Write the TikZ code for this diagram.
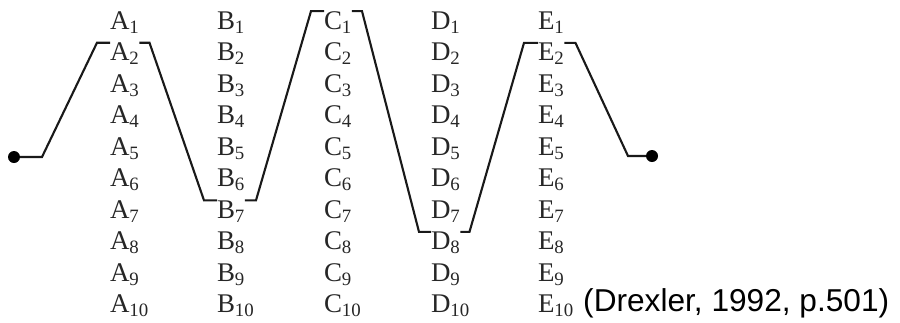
\documentclass[tikz,border=0pt]{standalone}
\usepackage{fontspec}
\setmainfont{Liberation Serif}
\newfontfamily\citefont{Liberation Sans}
\usepackage{tikz}
\usetikzlibrary{calc}
\newcommand{\lblfont}{\fontsize{23}{27}\selectfont}

\begin{document}
\begin{tikzpicture}[x=0.03cm, y=-0.03cm]
        \tikzset{LabelStyle/.style={anchor=base west, inner sep=0pt, outer sep=0pt,
                 font=\lblfont, text=black!85},
                 PathStyle/.style={line width=1.8pt, color=black!90}}
        \useasboundingbox (0,0) rectangle (900,322);
        \foreach \col/\xx in {A/110, B/217, C/324, D/431, E/538}{
            \foreach \k in {1,...,10}{
                \node[LabelStyle] (\col\k) at (\xx, {29+31.5*(\k-1)}) {\col\textsubscript{\k}};
            }
        }
        \node[anchor=base west, inner sep=0pt, font=\citefont\fontsize{27}{32}\selectfont]
            (Cite) at (583,311) {(Drexler, 1992, p.501)};
        \coordinate (Start) at (14,157);
        \coordinate (Stop) at (652,156);
        \draw[PathStyle] (Start) -- ++(28,0) -- ($(A2.north west)+(-13,0)$) -- (A2.north west);
        \draw[PathStyle] (A2.north east) -- ++(10,0) -- ($(B7.north west)+(-13,0)$) -- (B7.north west);
        \draw[PathStyle] (B7.north east) -- ++(11,0) -- ($(C1.north west)+(-13,0)$) -- (C1.north west);
        \draw[PathStyle] (C1.north east) -- ++(10,0) -- ($(D8.north west)+(-12,0)$) -- (D8.north west);
        \draw[PathStyle] (D8.north east) -- ++(9,0) -- ($(E2.north west)+(-14,0)$) -- (E2.north west);
        \draw[PathStyle] (E2.north east) -- ++(11,0) -- ($(Stop)+(-24,0)$) -- (Stop);
        \fill (Start) circle[radius=6];
        \fill (Stop) circle[radius=6];
\end{tikzpicture}
\end{document}
